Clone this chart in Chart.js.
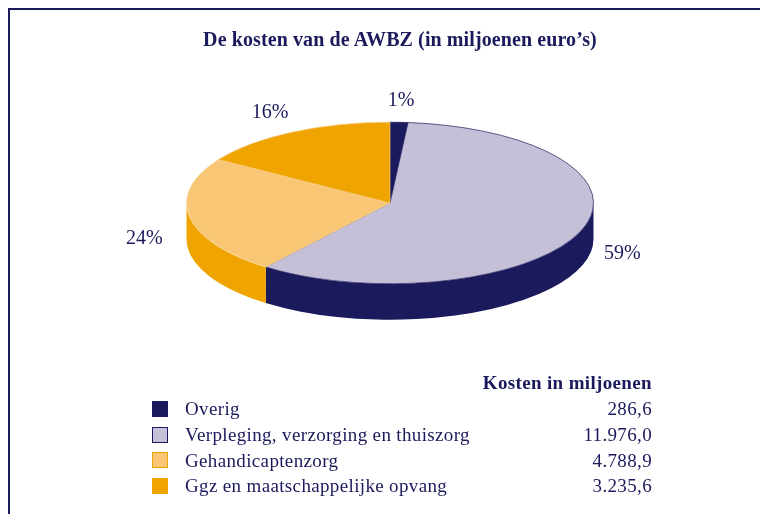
<!DOCTYPE html>
<html lang="nl">
<head>
<meta charset="UTF-8">
<title>De kosten van de AWBZ</title>
<script src="https://cdn.jsdelivr.net/npm/chart.js"></script>
<style>
  body { margin: 0; background: #fff; font-family: "Liberation Serif", "DejaVu Serif", serif; color: #1b1a5c; }
  #wrap { position: relative; width: 760px; height: 514px; overflow: hidden; }
  #frame { position: absolute; left: 8px; top: 8px; right: -10px; bottom: -10px;
           border-top: 2px solid #1b1a5c; border-left: 2px solid #1b1a5c; }
  #chartbox { position: absolute; left: 0; top: 0; width: 760px; height: 514px; }
  #title { position: absolute; left: 150px; top: 28px; width: 500px; text-align: center;
           font-weight: bold; font-size: 20px; letter-spacing: 0.1px; }
  #legend { position: absolute; left: 152px; top: 370px; width: 500px; font-size: 19px; letter-spacing: 0.35px; }
  #legend .head { height: 26px; line-height: 26px; text-align: right; font-weight: bold; }
  #legend .row { height: 25.8px; line-height: 25.8px; display: flex; align-items: center; }
  #legend .box { width: 14px; height: 14px; border: 1px solid; margin-right: 17px; }
  #legend .val { margin-left: auto; }
</style>
</head>
<body>
<div id="wrap">
  <div id="frame"></div>
  <div id="chartbox"><canvas id="pieChart"></canvas></div>
  <div id="title">De kosten van de AWBZ (in miljoenen euro’s)</div>
  <div id="legend"><div class="head">Kosten in miljoenen</div></div>
</div>

<script>
  var categories = ['Overig', 'Verpleging, verzorging en thuiszorg', 'Gehandicaptenzorg', 'Ggz en maatschappelijke opvang'];
  var costs = [286.6, 11976.0, 4788.9, 3235.6];
  var costLabels = ['286,6', '11.976,0', '4.788,9', '3.235,6'];

  var topColors = ['#1b1a5c', '#c5c0d7', '#f8c674', '#f0a400'];
  var sideColors = ['#141348', '#1b1a5c', '#f0a400', '#c98900'];
  var boxBorders = ['#1b1a5c', '#1b1a5c', '#f0a400', '#f0a400'];

  // 3d look: squashed pie plus a side wall
  var TILT = 0.397;
  var DEPTH = 36;
  var CENTER_Y = 203;

  // legend rows
  var legend = document.getElementById('legend');
  categories.forEach(function (name, i) {
    var row = document.createElement('div');
    row.className = 'row';
    row.innerHTML = '<span class="box" style="background:' + topColors[i] + ';border-color:' + boxBorders[i] + '"></span>' +
      '<span>' + name + '</span><span class="val">' + costLabels[i] + '</span>';
    legend.appendChild(row);
  });

  var pie3d = {
    id: 'pie3d',
    beforeDatasetsDraw: function (chart) {
      var ctx = chart.ctx;
      var arcs = chart.getDatasetMeta(0).data;
      var cx = arcs[0].x;
      var rx = arcs[0].outerRadius;
      var ry = rx * TILT;

      ctx.save();
      arcs.forEach(function (arc, i) {
        var s = Math.max(arc.startAngle, 0);
        var e = Math.min(arc.endAngle, Math.PI);
        if (s >= e) return;
        ctx.beginPath();
        ctx.ellipse(cx, CENTER_Y, rx, ry, 0, s, e);
        ctx.ellipse(cx, CENTER_Y + DEPTH, rx, ry, 0, e, s, true);
        ctx.closePath();
        ctx.fillStyle = sideColors[i];
        ctx.fill();
      });
      ctx.restore();

      ctx.save();
      ctx.translate(0, CENTER_Y);
      ctx.scale(1, TILT);
      ctx.translate(0, -arcs[0].y);
    },
    afterDatasetsDraw: function (chart) {
      var ctx = chart.ctx;
      ctx.restore();

      var arcs = chart.getDatasetMeta(0).data;
      var cx = arcs[0].x;
      var rx = arcs[0].outerRadius;
      var ry = rx * TILT;
      var total = costs.reduce(function (a, b) { return a + b; }, 0);

      ctx.save();
      ctx.font = '20px "Liberation Serif"';
      ctx.fillStyle = '#1b1a5c';
      ctx.textAlign = 'center';
      ctx.textBaseline = 'middle';
      arcs.forEach(function (arc, i) {
        var mid = (arc.startAngle + arc.endAngle) / 2;
        var sin = Math.sin(mid), cos = Math.cos(mid);
        var x = cx + (rx + 46) * cos;
        var y = CENTER_Y + (ry + 22) * sin;
        if (sin > 0) y += DEPTH * (1 - sin) * 0.6;
        ctx.fillText(Math.round(costs[i] / total * 100) + '%', x, y);
      });
      ctx.restore();
    }
  };

  new Chart(document.getElementById('pieChart'), {
    type: 'pie',
    data: {
      labels: categories,
      datasets: [{
        data: costs,
        backgroundColor: topColors,
        borderColor: ['#1b1a5c', '#1b1a5c', '#fbdca6', '#f8c674'],
        borderWidth: 1,
        clip: false
      }]
    },
    options: {
      responsive: true,
      maintainAspectRatio: false,
      animation: false,
      events: [],
      layout: { padding: { left: 186, right: 166, top: 50, bottom: 50 } },
      plugins: {
        legend: { display: false },
        tooltip: { enabled: false },
        title: { display: false }
      }
    },
    plugins: [pie3d]
  });
</script>
</body>
</html>
